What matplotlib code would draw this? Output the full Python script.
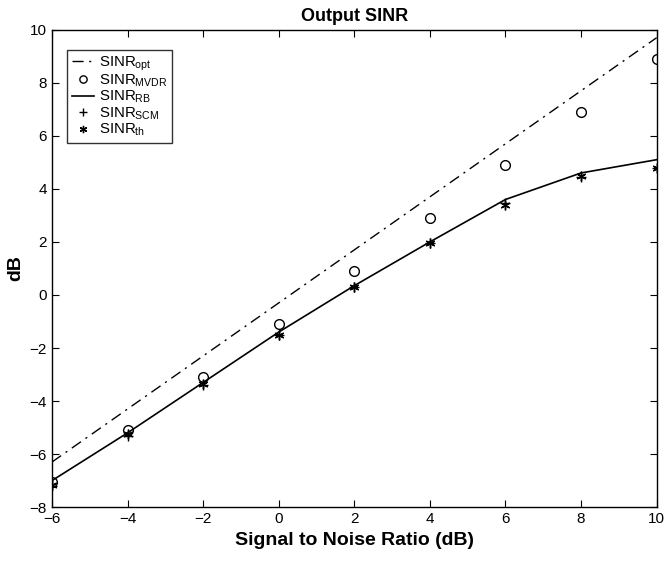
import matplotlib
matplotlib.use("Agg")
import matplotlib.pyplot as plt

plt.rcParams['font.family'] = ['Liberation Sans', 'DejaVu Sans']
plt.rcParams['mathtext.fontset'] = 'custom'
plt.rcParams['mathtext.rm'] = 'Liberation Sans'
plt.rcParams['mathtext.it'] = 'Liberation Sans'

snr = [-6, -4, -2, 0, 2, 4, 6, 8, 10]
sinr_opt = [-6.3, -4.3, -2.3, -0.3, 1.7, 3.7, 5.7, 7.7, 9.7]
sinr_mvdr = [-7.05, -5.1, -3.1, -1.1, 0.9, 2.9, 4.9, 6.9, 8.9]
sinr_rb = [-7.0, -5.2, -3.3, -1.4, 0.35, 2.0, 3.6, 4.6, 5.1]
sinr_scm = [-7.2, -5.3, -3.4, -1.5, 0.3, 1.95, 3.45, 4.45, 4.8]
sinr_th = [-7.15, -5.25, -3.35, -1.5, 0.3, 1.95, 3.4, 4.5, 4.8]

fig = plt.figure(figsize=(6.66, 5.61), dpi=100)
ax = fig.add_axes([0.078, 0.096, 0.908, 0.851])

ax.plot(snr, sinr_opt, color='black', lw=1.0, ls=(0, (8, 4, 1.5, 4)), label=r'SINR$_{\rm opt}$')
ax.plot(snr, sinr_mvdr, ls='none', marker='o', mfc='none', mec='black', ms=7, mew=1.0, label=r'SINR$_{\rm MVDR}$')
ax.plot(snr, sinr_rb, color='black', lw=1.2, label=r'SINR$_{\rm RB}$')
ax.plot(snr, sinr_scm, ls='none', marker='+', color='black', ms=7, mew=1.0, label=r'SINR$_{\rm SCM}$')
ax.plot(snr, sinr_th, ls='none', marker=(6, 2, 0), color='black', ms=7, mew=1.0, label=r'SINR$_{\rm th}$')

ax.set_xlim(-6, 10)
ax.set_ylim(-8, 10)
ax.set_xticks(range(-6, 11, 2))
ax.set_yticks(range(-8, 11, 2))
ax.tick_params(direction='in', top=True, right=True, labelsize=11, length=5)
for s in ax.spines.values():
    s.set_linewidth(1.0)

ax.set_title('Output SINR', fontsize=13, fontweight='bold')
ax.set_xlabel('Signal to Noise Ratio (dB)', fontsize=14, fontweight='bold')
ax.set_ylabel('dB', fontsize=14, fontweight='bold')

leg = ax.legend(loc='upper left', bbox_to_anchor=(0.025, 0.958), borderaxespad=0,
                fontsize=10.8, frameon=True, fancybox=False, edgecolor='black',
                handlelength=1.5, borderpad=0.3, labelspacing=0.0,
                handletextpad=0.3, markerscale=0.75)
leg.get_frame().set_linewidth(1.0)

fig.savefig('out.png', dpi=100)
